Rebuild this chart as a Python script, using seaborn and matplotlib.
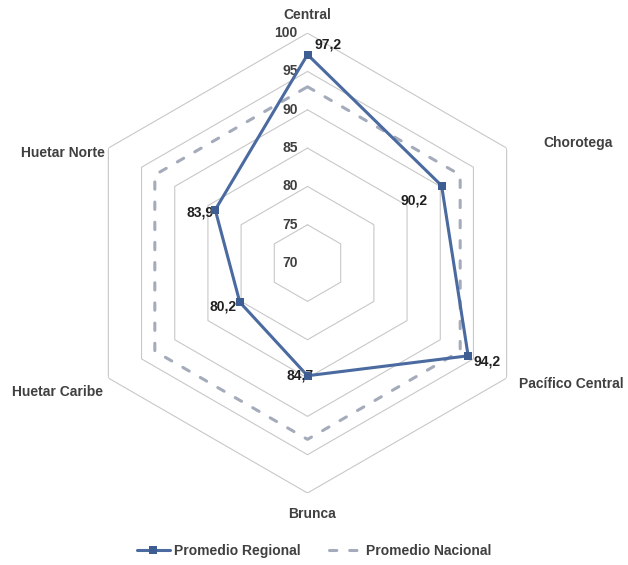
import numpy as np
import pandas as pd
import seaborn as sns
from matplotlib import pyplot as plt

regiones = ["Central", "Chorotega", "Pacífico Central", "Brunca", "Huetar Caribe", "Huetar Norte"]
promedio_regional = [97.2, 90.2, 94.2, 84.7, 80.2, 83.9]
promedio_nacional = [93.0, 93.0, 93.0, 93.0, 93.0, 93.0]
niveles = [70, 75, 80, 85, 90, 95, 100]

GRIS = "#404040"
AZUL = "#4a6aa0"
NACIONAL = "#a4abbb"
FUENTE = "Liberation Sans"
TAM = 10

sns.set_style("white")
plt.rcParams["font.family"] = [FUENTE, "DejaVu Sans"]


def cerrar(valores):
    """Return a closed loop (theta, value) dataframe for a radar series."""
    ang = np.linspace(0, 2 * np.pi, len(valores), endpoint=False)
    theta = np.append(ang, 2 * np.pi)
    vals = list(valores) + [valores[0]]
    return pd.DataFrame({"theta": theta, "valor": vals})


fig = plt.figure(figsize=(6.28, 5.65), dpi=100)
ax = fig.add_axes([0.1234, 0.1274, 0.7325, 0.814], projection="polar")
ax.set_theta_zero_location("N")
ax.set_theta_direction(-1)
ax.set_rlim(70, 100)
ax.set_xticks([])
ax.set_yticks([])
ax.grid(False)
ax.spines["polar"].set_visible(False)
ax.patch.set_visible(False)

# hexagonal grid
for nivel in niveles[1:]:
    g = cerrar([nivel] * len(regiones))
    ax.plot(g["theta"], g["valor"], color="#c8c8c8", lw=0.8, zorder=1)

# axis value labels along the top spoke
for nivel in niveles:
    ax.annotate(str(nivel), xy=(0, nivel), xytext=(-10, 0), textcoords="offset pixels",
                ha="right", va="center", fontsize=TAM, fontweight="bold", color=GRIS,
                annotation_clip=False)

df_nac = cerrar(promedio_nacional)
sns.lineplot(data=df_nac, x="theta", y="valor", sort=False, estimator=None, ax=ax,
             color=NACIONAL, lw=2.2, linestyle=(0, (2.4, 4.2)), dash_capstyle="round",
             label="Promedio Nacional", zorder=2)

df_reg = cerrar(promedio_regional)
sns.lineplot(data=df_reg, x="theta", y="valor", sort=False, estimator=None, ax=ax,
             color=AZUL, lw=2.2, marker="s", markersize=5.5, markeredgewidth=0,
             markerfacecolor="#3e5d92", label="Promedio Regional", zorder=4)

ax.set_xlabel("")
ax.set_ylabel("")
if ax.get_legend() is not None:
    ax.get_legend().remove()

# category labels
offs_cat = [(0, 18), (71, 5), (65, -6), (4, -21), (-51, -14), (-45, -5)]
ang = np.linspace(0, 2 * np.pi, len(regiones), endpoint=False)
for a, nombre, (dx, dy) in zip(ang, regiones, offs_cat):
    ax.annotate(nombre, xy=(a, 100), xytext=(dx, dy), textcoords="offset pixels",
                ha="center", va="center", fontsize=TAM, fontweight="bold", color=GRIS,
                annotation_clip=False)

# data labels
offs_dat = [(7, 10, "left"), (-14, -15, "right"), (5, -6, "left"),
            (-21, 0, "left"), (-3, -4, "right"), (-2, -3, "right")]
for a, v, (dx, dy, ha) in zip(ang, promedio_regional, offs_dat):
    ax.annotate(f"{v:.1f}".replace(".", ","), xy=(a, v), xytext=(dx, dy),
                textcoords="offset pixels", ha=ha, va="center", fontsize=TAM,
                fontweight="bold", color="#202020", zorder=3, annotation_clip=False)

handles, labels = ax.get_legend_handles_labels()
orden = [labels.index("Promedio Regional"), labels.index("Promedio Nacional")]
leg = fig.legend([handles[i] for i in orden], [labels[i] for i in orden],
                 loc="center", bbox_to_anchor=(0.5, 14 / 565), ncol=2, frameon=False,
                 handlelength=2.4, columnspacing=2.0, handletextpad=0.3,
                 prop={"family": FUENTE, "weight": "bold", "size": TAM})
for t in leg.get_texts():
    t.set_color(GRIS)

fig.savefig("out.png", dpi=100)
